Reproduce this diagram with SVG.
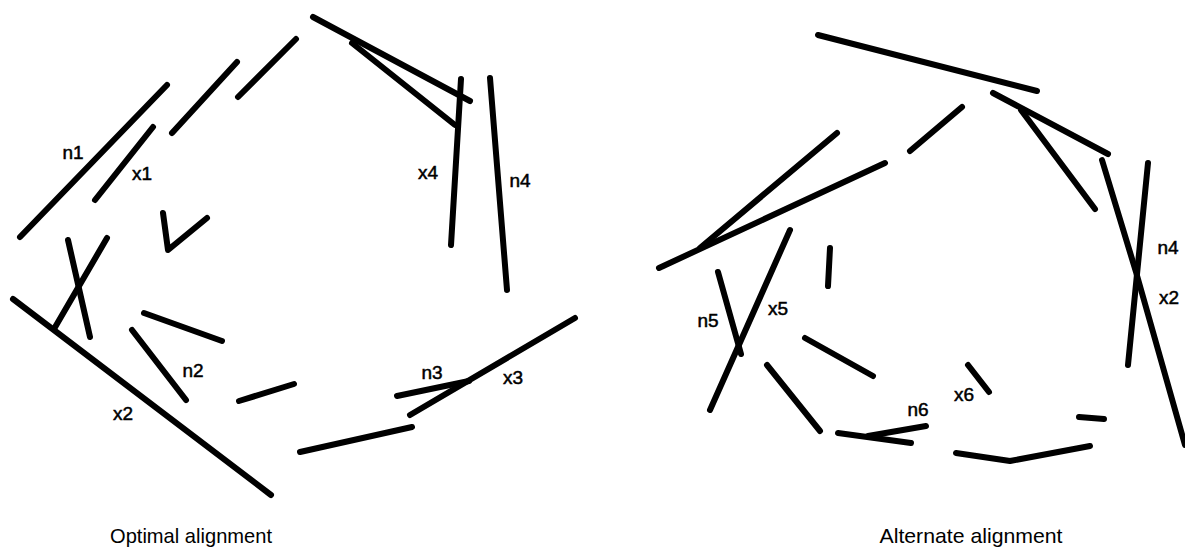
<svg xmlns="http://www.w3.org/2000/svg" width="1185" height="556" viewBox="0 0 1185 556">
<style>
.s{fill:none;stroke:#000;stroke-width:6;stroke-linecap:round;stroke-linejoin:round}
.l{font-family:"Liberation Sans",Arial,sans-serif;font-size:19px;fill:#000;stroke:#000;stroke-width:0.5;text-anchor:middle}
.c{font-family:"Liberation Sans",Arial,sans-serif;font-size:21px;fill:#000;text-anchor:middle}
</style>
<rect width="1185" height="556" fill="#fff"/>
<g id="optimal">
<g id="opt-strokes">
<line class="s" x1="20" y1="237" x2="167" y2="85"/>
<line class="s" x1="95" y1="200" x2="153" y2="127"/>
<line class="s" x1="172" y1="133" x2="237" y2="62"/>
<line class="s" x1="238" y1="97" x2="296" y2="39"/>
<line class="s" x1="313" y1="17" x2="470" y2="101"/>
<line class="s" x1="352" y1="43" x2="455" y2="125"/>
<line class="s" x1="461" y1="79" x2="451" y2="245"/>
<line class="s" x1="490" y1="78" x2="507" y2="290"/>
<polyline class="s" points="163,213 168,250 207,218"/>
<line class="s" x1="68" y1="240" x2="90" y2="337"/>
<line class="s" x1="107" y1="238" x2="54" y2="329"/>
<line class="s" x1="13" y1="299" x2="271" y2="495"/>
<line class="s" x1="132" y1="330" x2="186" y2="400"/>
<line class="s" x1="144" y1="313" x2="222" y2="341"/>
<line class="s" x1="239" y1="401" x2="294" y2="384"/>
<line class="s" x1="300" y1="452" x2="412" y2="427"/>
<line class="s" x1="410" y1="415" x2="575" y2="318"/>
<line class="s" x1="397" y1="396" x2="469" y2="381"/>
</g>
<text class="l" x="73" y="159">n1</text>
<text class="l" x="142" y="180">x1</text>
<text class="l" x="428" y="179">x4</text>
<text class="l" x="520" y="187">n4</text>
<text class="l" x="193" y="377">n2</text>
<text class="l" x="123" y="420">x2</text>
<text class="l" x="432" y="379">n3</text>
<text class="l" x="513" y="384">x3</text>
<text class="c" x="191" y="543" textLength="162" lengthAdjust="spacingAndGlyphs">Optimal alignment</text>
</g>
<g id="alternate">
<g id="alt-strokes">
<line class="s" x1="818" y1="35" x2="1037" y2="91"/>
<line class="s" x1="993" y1="93" x2="1108" y2="154"/>
<line class="s" x1="1021" y1="110" x2="1095" y2="209"/>
<line class="s" x1="910" y1="151" x2="962" y2="107"/>
<line class="s" x1="659" y1="268" x2="885" y2="163"/>
<line class="s" x1="700" y1="248" x2="837" y2="133"/>
<line class="s" x1="718" y1="272" x2="741" y2="354"/>
<line class="s" x1="790" y1="230" x2="710" y2="410"/>
<line class="s" x1="830" y1="248" x2="828" y2="286"/>
<line class="s" x1="805" y1="338" x2="873" y2="376"/>
<line class="s" x1="767" y1="365" x2="820" y2="431"/>
<line class="s" x1="838" y1="433" x2="911" y2="443"/>
<line class="s" x1="868" y1="436" x2="926" y2="426"/>
<line class="s" x1="968" y1="365" x2="989" y2="392"/>
<line class="s" x1="1079" y1="417" x2="1104" y2="419"/>
<polyline class="s" points="956,453 1010,461 1090,446"/>
<polyline class="s" points="1102,160 1136,272 1185,445"/>
<line class="s" x1="1148" y1="163" x2="1128" y2="365"/>
</g>
<text class="l" x="708" y="327">n5</text>
<text class="l" x="778" y="315">x5</text>
<text class="l" x="918" y="416">n6</text>
<text class="l" x="964" y="401">x6</text>
<text class="l" x="1168" y="254">n4</text>
<text class="l" x="1169" y="304">x2</text>
<text class="c" x="971" y="543" textLength="183" lengthAdjust="spacingAndGlyphs">Alternate alignment</text>
</g>
</svg>
